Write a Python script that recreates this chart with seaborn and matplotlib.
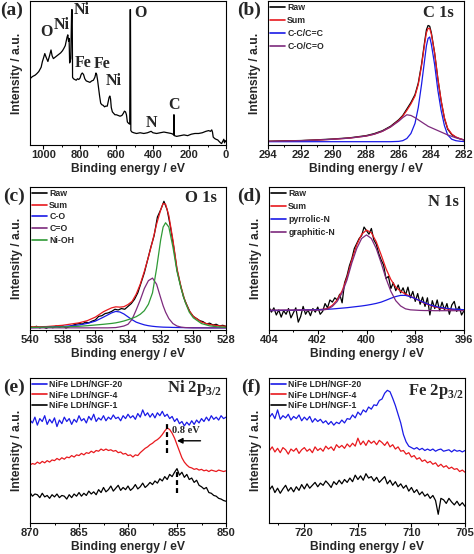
import matplotlib
matplotlib.use("Agg")
import matplotlib.pyplot as plt
import seaborn as sns
import numpy as np
from matplotlib.ticker import MultipleLocator

sns.set_style("ticks")
plt.rcParams["font.family"] = ["Liberation Sans", "DejaVu Sans"]
plt.rcParams["font.weight"] = "bold"
plt.rcParams["axes.labelweight"] = "bold"
plt.rcParams["axes.linewidth"] = 0.8
plt.rcParams["axes.edgecolor"] = "black"

RED = "#e8191e"
BLUE = "#1a1ae6"
PURPLE = "#7d2a7d"
GREEN = "#2f9a36"
SERIF = "Liberation Serif"

# ---------------- (a) survey ----------------
be_survey = [1073, 1060, 1045, 1036, 1025, 1012, 1005, 1000, 992, 985,
             975, 966, 958, 952, 945, 935, 925, 915, 905, 895,
             888, 880, 875, 870, 866, 862, 859, 856, 853, 850,
             845, 842, 840, 835, 828, 820, 813, 806, 799, 793,
             787, 780, 773, 765, 755, 745, 735, 726, 718, 712,
             708, 703, 698, 692, 686, 680, 672, 665, 658, 650,
             645, 640, 636, 632, 628, 622, 615, 608, 600, 590,
             580, 570, 562, 556, 550, 545, 540, 533, 527, 525,
             523, 521, 515, 505, 490, 470, 450, 430, 410, 400,
             380, 360, 340, 320, 300, 290, 287, 286, 284, 283,
             270, 250, 230, 210, 190, 170, 150, 130, 110, 95,
             85, 78, 74, 70, 62, 55, 45, 38, 30, 24,
             18, 12, 8, 4, 0]
int_survey = [46, 47.5, 48.5, 49.5, 51, 54, 58, 60, 63.5, 61,
              58, 62, 66, 62, 60, 61, 62, 63, 64, 65.5,
              67, 69, 72, 75, 76.5, 72, 74, 57, 58, 60,
              94, 94, 47, 46, 45.5, 45, 46, 45.5, 46.5, 49,
              50, 49, 46, 44.5, 44, 43.5, 44.5, 45, 47, 50,
              49, 45, 40, 34, 29, 28, 27.5, 26.5, 27, 27,
              30, 33, 34, 32, 26, 23, 22, 21, 21, 20.5,
              20, 20.5, 22, 23.5, 23, 21, 16, 15, 14.5, 94,
              94, 10, 9, 8.5, 8, 8.5, 8, 8.5, 9.5, 8.5,
              8, 8.5, 9, 8.5, 8, 7.5, 7, 21, 21, 6.5,
              6, 6.5, 7, 6.5, 7.5, 8, 8, 8.5, 9.5, 10,
              9.5, 10.5, 9, 5.5, 4.5, 4, 3.5, 2.5, 1.5, 1,
              2.5, 4, 1.5, 3, 2.5]
survey_labels = ["O", "Ni", "Ni", "O", "Fe", "Fe", "Ni", "N", "C"]
survey_label_be = [982, 899, 790, 470, 781, 680, 616, 406, 287]
survey_label_int = [78.7, 83.3, 93.8, 91.9, 56.7, 56.0, 44.7, 15.0, 27.8]

# ---------------- (b) C 1s ----------------
be_c = [294, 293, 292, 291, 290, 289, 288, 287.5, 287, 286.5,
        286, 285.75, 285.5, 285.25, 285, 284.8, 284.6, 284.4, 284.3, 284.2,
        284.1, 284.0, 283.8, 283.6, 283.4, 283.2, 283.0, 282.75, 282.5, 282.25,
        282]
c_raw = [2.6, 2.9, 3.1, 3.6, 4.2, 5.0, 6.5, 7.9, 9.9, 13,
         17.5, 20.5, 25, 29.5, 35, 43, 56, 72.5, 80, 83,
         82.5, 78, 64, 46, 30.5, 18.5, 11, 7.2, 5.4, 4.3,
         3.5]
c_sum = [2.5, 2.7, 3.0, 3.4, 4.0, 4.8, 6.2, 7.5, 9.5, 12.5,
         17, 20, 24, 28.5, 34, 42, 55, 71, 78, 81,
         81, 77, 64, 46, 31, 19, 11.6, 7.6, 5.6, 4.4,
         3.5]
c_cc = [2.3, 2.3, 2.3, 2.3, 2.3, 2.3, 2.3, 2.3, 2.3, 2.3,
        2.5, 3, 4.5, 8, 15, 26, 42, 60, 69, 74,
        75, 70, 56, 38, 24, 13.5, 7, 4, 3, 2.6,
        2.4]
c_co = [2.5, 2.7, 3.0, 3.4, 4.0, 4.8, 6.2, 7.5, 9.5, 12.5,
        16.5, 19, 21, 20.5, 19, 17.5, 16, 14.5, 13.8, 13,
        12.5, 12, 11, 10, 9, 8, 7, 6, 5, 4.2,
        3.5]

# ---------------- (c) O 1s ----------------
be_o_raw = np.arange(540.0, 527.9, -0.2)
o_raw = [2.5, 1.8, 2.6, 1.5, 2.2, 1.2, 2.4, 1.6, 2.8, 1.9,
         2.9, 1.4, 2.3, 3.2, 4.0, 4.5, 4.2, 5.5, 5.0, 6.2,
         7.0, 9.5, 10.0, 11.5, 12.0, 13.0, 14.5, 14.0, 15.0, 14.5,
         16.5, 18.5, 21.5, 26.0, 33.0, 40.0, 49.0, 58.0, 66.0, 79.0,
         84.0, 90.0, 84.0, 72.0, 58.0, 42.0, 32.0, 23.0, 17.5, 12.5,
         9.5, 8.0, 6.5, 5.8, 4.2, 4.8, 3.5, 4.0, 2.8, 3.3,
         2.5]
be_o = [540, 539, 538, 537, 536.5, 536, 535.5, 535.25, 535, 534.75,
        534.5, 534.25, 534, 533.75, 533.5, 533.25, 533, 532.75, 532.5, 532.25,
        532, 531.85, 531.7, 531.5, 531.25, 531, 530.75, 530.5, 530.25, 530,
        529.5, 529, 528.5, 528]
o_sum = [2.2, 2.4, 3.3, 5.0, 6.5, 9.0, 12.8, 14.2, 15.5, 16.2,
         16.0, 16.3, 17.8, 20, 25, 32, 41, 51, 62, 74,
         84, 88.5, 88, 80, 63, 43, 30, 20, 13.5, 9.5,
         5.5, 3.8, 3.0, 2.6]
o_co = [1.6, 1.9, 2.4, 3.5, 4.6, 6.2, 9.0, 10.5, 12, 13,
        12.6, 11.2, 9.2, 7.2, 5.5, 4.5, 3.6, 3.0, 2.6, 2.3,
        2.1, 2.0, 1.95, 1.9, 1.8, 1.75, 1.7, 1.65, 1.6, 1.6,
        1.55, 1.5, 1.5, 1.5]
o_cdo = [1.5, 1.5, 1.5, 1.5, 1.5, 1.5, 1.5, 1.5, 1.6, 1.7,
         2.2, 2.8, 4, 7.5, 14, 21, 29, 34.5, 36.3, 32,
         22.5, 17, 12.5, 8, 4.5, 2.8, 2.0, 1.7, 1.6, 1.5,
         1.5, 1.5, 1.5, 1.5]
o_nioh = [1.8, 2.0, 2.2, 2.6, 3.0, 3.5, 4.0, 4.3, 4.6, 5.0,
          5.6, 6.3, 7.2, 8.2, 9.3, 11, 13.5, 18, 26, 43,
          63, 72, 75, 72, 58, 41, 29, 19.5, 12.5, 8.5,
          4.5, 2.9, 2.2, 1.9]

# ---------------- (d) N 1s ----------------
be_n_raw = np.arange(404.0, 395.95, -0.1)
n_raw = [16.0, 12.5, 15.5, 10.5, 14.0, 9.0, 13.5, 11.0, 15.0, 8.5,
         12.0, 15.5, 5.5, 9.5, 16.5, 11.0, 14.0, 10.0, 15.0, 12.5,
         16.0, 11.0, 13.0, 18.5, 15.5, 21.0, 19.5, 22.5, 21.0, 25.0,
         19.0, 33.0, 38.0, 45.0, 50.0, 57.0, 60.5, 64.0, 66.0, 72.0,
         69.5, 67.0, 71.0, 63.0, 60.0, 53.5, 49.0, 45.5, 36.0, 37.5,
         29.0, 33.0, 27.5, 31.5, 26.0, 29.5, 24.5, 30.0, 22.5, 27.0,
         20.0, 25.5, 18.0, 23.0, 16.5, 22.5, 10.5, 20.5, 15.0, 21.0,
         13.5, 19.5, 14.0, 18.5, 11.0, 17.5, 20.0, 13.0, 16.5, 10.5,
         13.5]
be_n = [404, 403.5, 403, 402.5, 402, 401.8, 401.6, 401.4, 401.2, 401.0,
        400.8, 400.6, 400.4, 400.2, 400.0, 399.8, 399.6, 399.4, 399.2, 399.0,
        398.8, 398.6, 398.4, 398.2, 398.0, 397.8, 397.6, 397.4, 397.2, 397.0,
        396.5, 396.0]
n_sum = [13.6, 13.7, 13.8, 14.0, 14.2, 14.45, 15.1, 17.3, 21.1, 27.4,
         36.7, 49.1, 59.5, 66.9, 69.9, 68.0, 61.7, 52.6, 42.9, 35.3,
         30.0, 27.1, 25.1, 23.5, 22.0, 20.2, 18.6, 17.3, 16.2, 15.4,
         14.3, 13.8]
n_pyr = [13.6, 13.7, 13.8, 14.0, 14.2, 14.35, 14.5, 14.7, 15.0, 15.3,
         15.6, 16.0, 16.4, 16.8, 17.3, 17.9, 18.6, 19.5, 20.8, 22.2,
         23.4, 24.2, 24.2, 23.3, 22.0, 20.4, 18.9, 17.6, 16.6, 15.8,
         14.7, 14.2]
n_gra = [13.9, 13.9, 13.9, 13.9, 13.9, 14.0, 14.5, 16.5, 20, 26,
         35, 47, 57, 64, 66.5, 64, 57, 47, 36, 27,
         20.5, 16.8, 14.8, 14.1, 13.9, 13.7, 13.6, 13.6, 13.5, 13.5,
         13.5, 13.5]

# ---------------- (e) Ni 2p3/2 ----------------
be_ni = np.arange(870.0, 849.9, -0.25)
ni_20 = [71, 69, 73, 67.5, 72, 70, 74, 68, 71.5, 69,
         72.5, 66.5, 71, 68.5, 73, 70, 72, 68, 71.5, 69.5,
         74, 70.5, 72, 69, 73.5, 71, 75, 70, 72.5, 71,
         74, 70.5, 73, 71.5, 74.5, 72, 73, 70.5, 74, 72,
         75, 72.5, 74, 71.5, 75.5, 73, 78, 74, 76, 73,
         75.5, 72.5, 76, 74, 77, 73.5, 75, 72, 73.5, 70,
         72, 68.5, 70, 67, 69.5, 67.5, 70.5, 68, 71, 69,
         72, 70, 73, 70.5, 74, 71.5, 73, 71, 74, 72,
         73]
ni_4 = [40, 41, 40.5, 42, 41, 42.5, 41.5, 43, 42, 43.5,
        43, 44.5, 43.5, 45, 44, 45.5, 45, 46.5, 45.5, 47,
        46.5, 48, 47, 48.5, 48, 49.5, 48.5, 50, 49.5, 51,
        50, 51, 50, 50.5, 49.5, 50, 48.5, 49, 47.5, 48,
        46.5, 47, 45.5, 47, 46.5, 48.5, 50, 51.5, 52.5, 54,
        55, 56.5, 57.5, 59, 61, 63.5, 65.5, 64.5, 62, 58.5,
        54, 49.5, 45, 42, 40, 38.5, 38, 37, 37.5, 36.5,
        37, 36, 36.5, 35.5, 36.5, 36, 35.5, 36.5, 36, 35.5,
        36]
ni_1 = [21, 18.5, 20, 19.5, 17.5, 20.5, 18, 19, 17, 19.5,
        18, 20, 17.5, 19, 18.5, 16.5, 19.5, 17.5, 20, 18.5,
        21, 18.5, 20.5, 19, 22, 20, 21.5, 19.5, 23, 21,
        24.5, 21.5, 23, 25.5, 22, 24, 26, 22.5, 24.5, 23,
        25.5, 22.5, 24, 26.5, 23.5, 25, 27.5, 24.5, 26, 28,
        26.5, 29, 27.5, 30.5, 29, 32, 30, 33.5, 32, 35,
        37.5, 33, 35, 31.5, 33.5, 30, 31, 28, 29.5, 26,
        25, 23.5, 24.5, 21, 20.5, 19, 18.5, 17, 16.5, 15.5,
        15]
shift_be = [856.0, 855.0]
shift_lo = [48.0, 20.6]
shift_hi = [70.0, 36.7]

# ---------------- (f) Fe 2p3/2 ----------------
be_fe = np.arange(723.25, 704.9, -0.25)
fe_20 = [73, 75.5, 72, 78, 71.5, 74, 72.5, 75, 71, 73.5,
         72, 74.5, 70.5, 73, 71, 73.5, 69.5, 72, 70, 71.5,
         69, 70.5, 68, 70, 67.5, 69.5, 68.5, 71, 69, 72,
         71.5, 74.5, 72.5, 76.5, 74.5, 78, 76.5, 80, 78.5, 81.5,
         81, 84.5, 85.5, 89.5, 91.5, 90.5, 86, 81, 75, 69,
         61, 56, 53, 52, 51, 52, 50.5, 51.5, 50, 51,
         50, 51, 49.5, 50.5, 51, 49.5, 50, 50.5, 49, 50.5,
         49.5, 50, 49, 50]
fe_4 = [50, 52.5, 49, 51.5, 48.5, 52, 50.5, 47.5, 51, 49.5,
        51.5, 48, 50.5, 52, 49.5, 51, 48.5, 52.5, 50, 51.5,
        49.5, 53, 51, 52.5, 50, 54, 52, 53.5, 51.5, 54.5,
        52.5, 55, 53, 58.5, 54, 56.5, 53.5, 57, 55, 56.5,
        54, 57, 55.5, 53.5, 56, 52.5, 54, 51, 52.5, 49.5,
        50, 47.5, 48.5, 45.5, 46.5, 44, 45, 42.5, 43.5, 41.5,
        42.5, 40.5, 41.5, 39, 40.5, 38.5, 39.5, 37.5, 38.5, 37,
        37.5, 35.5, 36.5, 35]
fe_1 = [23, 25.5, 21, 24, 20.5, 23.5, 26, 22, 24.5, 21.5,
        25, 22.5, 26.5, 23.5, 27, 24, 26, 28, 25, 27.5,
        26, 29, 27, 24.5, 28.5, 26.5, 29.5, 27, 30, 28,
        31, 28.5, 33, 30, 32.5, 29.5, 34, 31, 32, 29,
        31.5, 28, 30, 32, 27, 29.5, 26, 28.5, 25, 27,
        24, 26, 22, 24.5, 21, 23, 19.5, 21.5, 18.5, 20,
        17, 19, 15.5, 6, 17, 16, 13.5, 17, 14.5, 12.5,
        15, 12, 14, 11.5]

sample_names = ["NiFe LDH/NGF-20", "NiFe LDH/NGF-4", "NiFe LDH/NGF-1"]
sample_colors = [BLUE, RED, "black"]

W, H = 474, 554
fig = plt.figure(figsize=(W / 100, H / 100), dpi=100)


def box(x0, y0, x1, y1):
    return [x0 / W, 1 - y1 / H, (x1 - x0) / W, (y1 - y0) / H]


def style_axis(ax, xlim, major, minor):
    ax.set_xlim(*xlim)
    ax.set_ylim(0, 100)
    ax.set_yticks([])
    ax.xaxis.set_major_locator(MultipleLocator(major))
    ax.xaxis.set_minor_locator(MultipleLocator(minor))
    ax.tick_params(axis="x", which="major", length=2.6, width=0.8, pad=1.2,
                   labelsize=8, direction="out", color="black")
    ax.tick_params(axis="x", which="minor", length=1.5, width=0.7, direction="out",
                   color="black")
    for s in ax.spines.values():
        s.set_visible(True)
        s.set_linewidth(0.8)
        s.set_color("black")
    ax.set_xlabel("Binding energy / eV", fontsize=8.7, labelpad=2.2)
    ax.set_ylabel("Intensity / a.u.", fontsize=8.7, labelpad=5)
    ax.set_facecolor("white")


def line(ax, x, y, color, label=None, lw=0.9):
    sns.lineplot(x=x, y=y, ax=ax, color=color, lw=lw, label=label,
                 errorbar=None, legend=False)


def legend(ax, spacing):
    leg = ax.legend(loc="upper left", bbox_to_anchor=(0.0, 1.0), frameon=False,
                    fontsize=6.3, handlelength=1.7, handletextpad=0.25,
                    labelspacing=spacing, borderpad=0.15, borderaxespad=0.1)
    for h in leg.get_lines():
        h.set_linewidth(1.2)


def title(ax, text, x, y):
    ax.text(x, y, text, transform=ax.transAxes, ha="right", va="center",
            family=SERIF, weight="bold", fontsize=12)


# (a)
ax = fig.add_axes(box(30, 1, 226, 145))
line(ax, be_survey, int_survey, "black")
style_axis(ax, (1073, 0), 200, 100)
for lab, bx, by in zip(survey_labels, survey_label_be, survey_label_int):
    ax.text(bx, by, lab, ha="center", va="center", family=SERIF,
            weight="bold", fontsize=11.5)

# (b)
ax = fig.add_axes(box(268, 1, 464, 145))
line(ax, be_c, c_raw, "black", "Raw")
line(ax, be_c, c_sum, RED, "Sum")
line(ax, be_c, c_cc, BLUE, "C-C/C=C")
line(ax, be_c, c_co, PURPLE, "C-O/C=O")
style_axis(ax, (294, 282), 2, 1)
legend(ax, 0.45)
title(ax, "C 1s", 0.95, 0.915)

# (c)
ax = fig.add_axes(box(30, 187, 226, 330))
line(ax, be_o_raw, o_raw, "black", "Raw")
line(ax, be_o, o_sum, RED, "Sum")
line(ax, be_o, o_co, BLUE, "C-O")
line(ax, be_o, o_cdo, PURPLE, "C=O")
line(ax, be_o, o_nioh, GREEN, "Ni-OH")
style_axis(ax, (540, 528), 2, 1)
legend(ax, 0.3)
title(ax, "O 1s", 0.955, 0.925)

# (d)
ax = fig.add_axes(box(269, 187, 464, 330))
line(ax, be_n_raw, n_raw, "black", "Raw")
line(ax, be_n, n_sum, RED, "Sum")
line(ax, be_n, n_pyr, BLUE, "pyrrolic-N")
line(ax, be_n, n_gra, PURPLE, "graphitic-N")
style_axis(ax, (404, 396), 2, 1)
legend(ax, 0.45)
title(ax, "N 1s", 0.975, 0.897)

# (e)
ax = fig.add_axes(box(30, 378, 226, 523))
for ys, name, col in zip([ni_20, ni_4, ni_1], sample_names, sample_colors):
    line(ax, be_ni, ys, col, name)
ax.vlines(shift_be, shift_lo, shift_hi, colors="black", lw=1.6,
          linestyles=(0, (2.2, 1.4)))
ax.annotate("", xy=(855.0, 56.7), xytext=(852.6, 56.7),
            arrowprops=dict(arrowstyle="-|>", color="black", lw=1.0,
                            mutation_scale=8, shrinkA=0, shrinkB=0))
ax.text(854.1, 64, "0.8 eV", ha="center", va="center", family=SERIF,
        weight="bold", fontsize=7.5)
style_axis(ax, (870, 850), 5, 2.5)
legend(ax, 0.15)
title(ax, "Ni 2p$_{\\mathregular{3/2}}$", 0.98, 0.93)

# (f)
ax = fig.add_axes(box(269, 378, 465, 523))
for ys, name, col in zip([fe_20, fe_4, fe_1], sample_names, sample_colors):
    line(ax, be_fe, ys, col, name)
style_axis(ax, (723.3, 705), 5, 2.5)
legend(ax, 0.15)
title(ax, "Fe 2p$_{\\mathregular{3/2}}$", 0.995, 0.91)

# panel letters
for lab, px, py in [("(a)", 12, 10), ("(b)", 249, 10), ("(c)", 14, 196),
                    ("(d)", 249, 196), ("(e)", 14, 387), ("(f)", 251, 387)]:
    fig.text(px / W, 1 - py / H, lab, ha="center", va="center", family=SERIF,
             weight="bold", fontsize=14)

fig.savefig("out.png", dpi=100, facecolor="white")
